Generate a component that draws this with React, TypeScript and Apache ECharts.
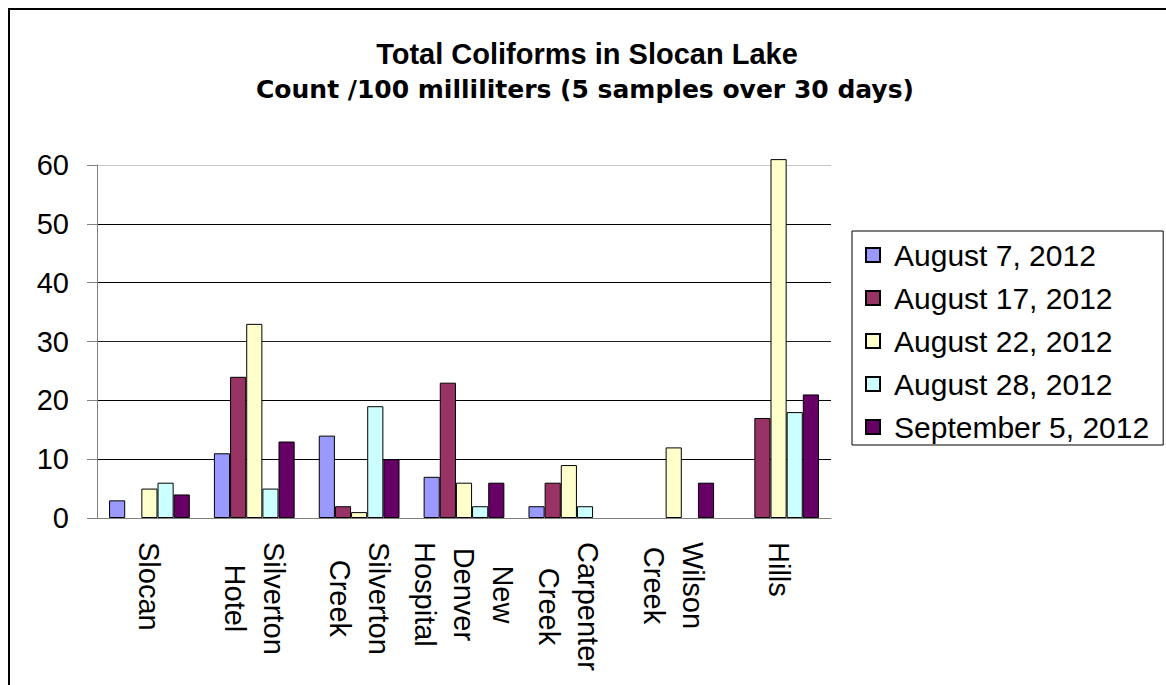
import React, { useEffect, useRef } from "react";
import * as echarts from "echarts";

const categories = [
  "Slocan",
  "Silverton\nHotel",
  "Silverton\nCreek",
  "New\nDenver\nHospital",
  "Carpenter\nCreek",
  "Wilson\nCreek",
  "Hills",
];
const seriesNames = [
  "August 7, 2012",
  "August 17, 2012",
  "August 22, 2012",
  "August 28, 2012",
  "September 5, 2012",
];
const aug7 = [3, 11, 14, 7, 2, null, null];
const aug17 = [null, 24, 2, 23, 6, null, 17];
const aug22 = [5, 33, 1, 6, 9, 12, 61];
const aug28 = [6, 5, 19, 2, 2, null, 18];
const sep5 = [4, 13, 10, 6, null, 6, 21];
const yTicks = [0, 10, 20, 30, 40, 50, 60];

const colors = ["#9999FF", "#993366", "#FFFFCC", "#CCFFFF", "#660066"];
const FONT = "'Liberation Sans', Arial, sans-serif";
const WIDE = "'DejaVu Sans', 'Liberation Sans', sans-serif";

export default function App() {
  const ref = useRef<HTMLDivElement>(null);
  useEffect(() => {
    document.body.style.margin = "0";
    const chart = echarts.init(ref.current!, null, { renderer: "svg" });
    const data = [aug7, aug17, aug22, aug28, sep5];
    chart.setOption({
      animation: false,
      backgroundColor: "#fff",
      title: [
        {
          text: "Total Coliforms in Slocan Lake",
          left: 582,
          top: 34,
          textAlign: "center",
          textStyle: { fontFamily: FONT, fontWeight: "bold", fontSize: 29, color: "#000" },
        },
        {
          text: "Count /100 milliliters (5 samples over 30 days)",
          left: 580,
          top: 72,
          textAlign: "center",
          textStyle: { fontFamily: WIDE, fontWeight: "bold", fontSize: 25, color: "#000" },
        },
      ],
      graphic: [
        {
          type: "rect",
          shape: { x: 9, y: 9, width: 1170, height: 700 },
          style: { fill: "none", stroke: "#000", lineWidth: 2 },
          silent: true,
        },
      ],
      legend: {
        orient: "vertical",
        left: 852,
        top: 231,
        data: seriesNames,
        icon: "rect",
        itemWidth: 14,
        itemHeight: 14,
        itemGap: 13,
        borderColor: "#000",
        borderWidth: 1,
        padding: [9, 14, 3, 13],
        textStyle: {
          fontFamily: FONT,
          fontSize: 30,
          color: "#000",
          lineHeight: 30,
          padding: [0, 0, 0, 9],
        },
      },
      grid: { left: 97, top: 165, width: 734, height: 353, containLabel: false },
      xAxis: {
        type: "category",
        data: categories,
        axisLine: { lineStyle: { color: "#808080", width: 1 } },
        axisTick: { length: 10, lineStyle: { color: "#808080" } },
        axisLabel: {
          rotate: -90,
          margin: 24,
          interval: 0,
          formatter: (v: string) => v.split("\n").map((s) => `{a|${s}}`).join("\n"),
          rich: {
            a: { align: "center", fontSize: 29, lineHeight: 39, fontFamily: FONT, color: "#000" },
          },
        },
      },
      yAxis: {
        type: "value",
        min: yTicks[0],
        max: yTicks[yTicks.length - 1],
        interval: 10,
        axisLine: { show: true, lineStyle: { color: "#808080", width: 1 } },
        axisTick: { show: true, length: 10, lineStyle: { color: "#808080" } },
        axisLabel: { margin: 28, fontSize: 29, fontFamily: FONT, color: "#000" },
        splitLine: {
          lineStyle: {
            color: ["#000", "#000", "#000", "#222", "#000", "#000", "#c8c8c8"],
            width: 1,
          },
        },
      },
      series: seriesNames.map((name, i) => ({
        name,
        type: "bar",
        data: data[i],
        barGap: "0%",
        barCategoryGap: "23%",
        clip: false,
        itemStyle: { color: colors[i], borderColor: "#000", borderWidth: 1 },
      })),
    });
    return () => chart.dispose();
  }, []);
  return <div ref={ref} style={{ width: 1166, height: 685 }} />;
}
